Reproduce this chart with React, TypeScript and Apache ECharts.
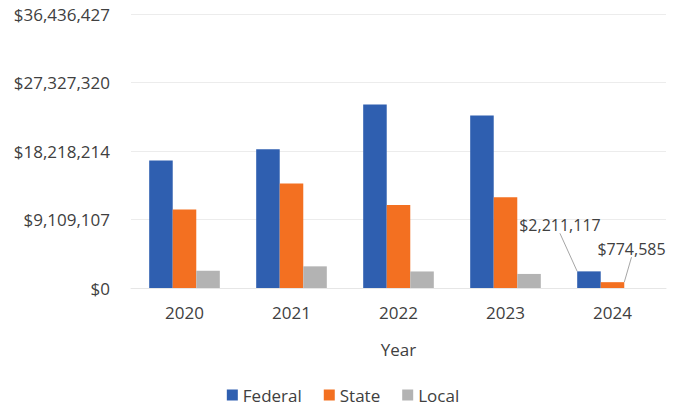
import React, { useEffect, useRef } from "react";
import * as echarts from "echarts";

const years = ["2020", "2021", "2022", "2023", "2024"];
const federal = [16950000, 18460000, 24400000, 22950000, 2211117];
const state = [10430000, 13900000, 11050000, 12070000, 774585];
const local = [2300000, 2880000, 2200000, 1870000, 0];
const yTickLabels = ["$0", "$9,109,107", "$18,218,214", "$27,327,320", "$36,436,427"];
const yMax = 36436427;
const yInterval = yMax / 4;

const FONT = "'Open Sans', sans-serif";
const TEXT = "#404040";

const fmt = (v: number) => "$" + Math.round(v).toLocaleString("en-US");

export default function App() {
  const ref = useRef<HTMLDivElement>(null);
  useEffect(() => {
    document.body.style.margin = "0";
    const chart = echarts.init(ref.current!, null, { renderer: "svg" });
    const lastLabel = () => ({
      show: true,
      position: "top",
      formatter: (p: any) => fmt(p.value),
      fontFamily: FONT,
      fontSize: 16,
      color: TEXT,
    });
    const mk = (arr: number[], labelLast: boolean) =>
      arr.map((v, i) =>
        i === arr.length - 1 && labelLast ? { value: v, label: lastLabel() } : v
      );
    chart.setOption({
      animation: false,
      textStyle: { fontFamily: FONT, color: TEXT },
      grid: { left: 131, right: 20, top: 14, bottom: 118 },
      legend: {
        top: 385,
        left: "center",
        padding: 0,
        icon: "rect",
        itemWidth: 11,
        itemHeight: 11,
        itemGap: 22,
        textStyle: { fontFamily: FONT, fontSize: 17, lineHeight: 20, color: TEXT },
        data: ["Federal", "State", "Local"],
      },
      xAxis: {
        type: "category",
        data: years,
        name: "Year",
        nameLocation: "middle",
        nameGap: 53,
        nameTextStyle: { fontFamily: FONT, fontSize: 17, color: TEXT },
        axisLine: { show: true, lineStyle: { color: "#e6e6e6" } },
        axisTick: { show: false },
        axisLabel: { margin: 16, fontFamily: FONT, fontSize: 17, color: TEXT },
      },
      yAxis: {
        type: "value",
        min: 0,
        max: yMax,
        interval: yInterval,
        axisLine: { show: false },
        axisTick: { show: false },
        splitLine: { lineStyle: { color: "#ececec" } },
        axisLabel: {
          margin: 21,
          fontFamily: FONT,
          fontSize: 17,
          color: TEXT,
          formatter: (v: number) => yTickLabels[Math.round(v / yInterval)] ?? fmt(v),
        },
      },
      series: [
        {
          name: "Federal",
          type: "bar",
          data: mk(federal, true),
          itemStyle: { color: "#2f5fb0" },
          barGap: "0%",
          barCategoryGap: "34%",
          labelLayout: { dx: -29, dy: -33 },
          labelLine: { show: true, lineStyle: { color: "#a6a6a6", width: 1 } },
        },
        {
          name: "State",
          type: "bar",
          data: mk(state, true),
          itemStyle: { color: "#f37021" },
          barGap: "0%",
          barCategoryGap: "34%",
          labelLayout: { dx: 19, dy: -20 },
          labelLine: { show: true, lineStyle: { color: "#a6a6a6", width: 1 } },
        },
        {
          name: "Local",
          type: "bar",
          data: local,
          itemStyle: { color: "#b3b3b3" },
          barGap: "0%",
          barCategoryGap: "34%",
        },
      ],
    });
    return () => chart.dispose();
  }, []);
  return (
    <div
      ref={ref}
      style={{ position: "fixed", left: 0, top: 0, width: 686, height: 406, background: "#fff" }}
    />
  );
}
